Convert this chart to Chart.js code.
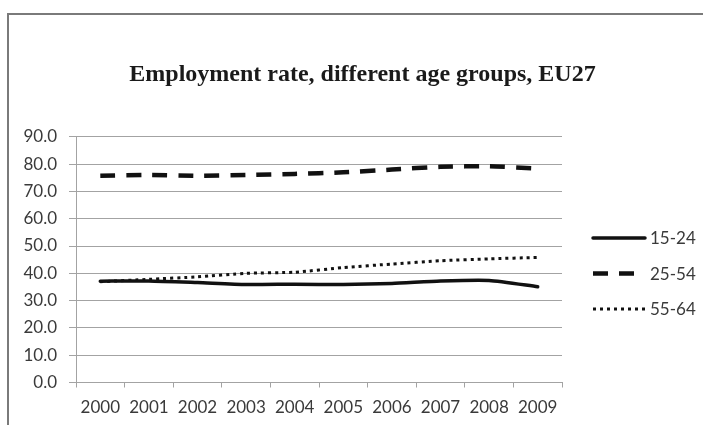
<!DOCTYPE html>
<html>
<head>
<meta charset="utf-8">
<script src="https://cdn.jsdelivr.net/npm/chart.js@4.4.0/dist/chart.umd.min.js"></script>
<style>
  html, body { margin: 0; padding: 0; background: #fff; }
  #wrap { width: 703px; height: 425px; }
</style>
</head>
<body>
<div id="wrap"><canvas id="chart"></canvas></div>
<script>
const years = ["2000", "2001", "2002", "2003", "2004", "2005", "2006", "2007", "2008", "2009"];
const seriesNames = ["15-24", "25-54", "55-64"];
const youth = [37.1, 37.2, 36.6, 35.9, 36.0, 35.9, 36.3, 37.2, 37.4, 35.1];
const prime = [75.7, 76.0, 75.7, 76.0, 76.4, 77.0, 78.0, 79.0, 79.2, 78.4];
const older = [36.9, 37.8, 38.7, 40.0, 40.4, 42.1, 43.4, 44.6, 45.3, 45.8];
const yMin = 0;
const yMax = 90;
const yStep = 10;

const labelFont = "Lato";
const textColor = "#3a3a3a";
const gridColor = "#a3a3a3";

// frame round the chart (the scan shows the left and top edges)
const framePlugin = {
  id: "frame",
  beforeDraw(chart) {
    const ctx = chart.ctx;
    ctx.save();
    ctx.fillStyle = "#fff";
    ctx.fillRect(0, 0, chart.width, chart.height);
    ctx.strokeStyle = "#7a7a7a";
    ctx.lineWidth = 2;
    ctx.beginPath();
    ctx.moveTo(8, chart.height + 2);
    ctx.lineTo(8, 14);
    ctx.lineTo(chart.width + 2, 14);
    ctx.stroke();
    ctx.restore();
  },
};

// legend on the right, drawn by hand so it sits where the original does
const sideLegend = {
  id: "sideLegend",
  afterDraw(chart) {
    const ctx = chart.ctx;
    const x0 = 593, x1 = 645, tx = 650;
    const rowTop = 238, rowGap = 35.5;
    ctx.save();
    chart.data.datasets.forEach((ds, i) => {
      const y = rowTop + i * rowGap;
      ctx.strokeStyle = ds.borderColor;
      ctx.lineWidth = ds.borderWidth;
      ctx.lineCap = ds.borderCapStyle || "butt";
      ctx.setLineDash(ds.borderDash || []);
      ctx.beginPath();
      ctx.moveTo(x0, y);
      ctx.lineTo(x1, y);
      ctx.stroke();
      ctx.setLineDash([]);
      ctx.fillStyle = textColor;
      ctx.font = "17px " + labelFont;
      ctx.textBaseline = "middle";
      ctx.fillText(ds.label, tx, y + 1);
    });
    ctx.restore();
  },
};

const chart = new Chart(document.getElementById("chart"), {
  type: "line",
  data: {
    labels: years,
    datasets: [
      {
        label: seriesNames[0],
        data: youth,
        borderColor: "#111",
        borderWidth: 3.5,
        borderCapStyle: "round",
        pointRadius: 0,
        tension: 0.2,
      },
      {
        label: seriesNames[1],
        data: prime,
        borderColor: "#111",
        borderWidth: 4.5,
        borderDash: [15, 11],
        pointRadius: 0,
        tension: 0.2,
      },
      {
        label: seriesNames[2],
        data: older,
        borderColor: "#111",
        borderWidth: 3,
        borderDash: [3, 4],
        pointRadius: 0,
        tension: 0.2,
      },
    ],
  },
  options: {
    responsive: true,
    maintainAspectRatio: false,
    animation: false,
    layout: { padding: { left: 22, right: 0, top: 0, bottom: 0 } },
    plugins: {
      legend: { display: false },
      tooltip: { enabled: false },
      title: {
        display: true,
        text: "Employment rate, different age groups, EU27",
        color: "#1a1a1a",
        font: { family: "Liberation Serif", size: 24, weight: "bold" },
        padding: { top: 60, bottom: 48 },
      },
    },
    scales: {
      x: {
        offset: true,
        grid: {
          offset: true,
          drawOnChartArea: false,
          drawTicks: true,
          tickLength: 5,
          color: gridColor,
        },
        border: { display: true, color: gridColor },
        ticks: {
          color: textColor,
          font: { family: labelFont, size: 17 },
          padding: 10,
          maxRotation: 0,
        },
        afterFit(scale) {
          scale.height = 42.5;
        },
      },
      y: {
        min: yMin,
        max: yMax,
        grid: { color: gridColor, tickLength: 7 },
        border: { display: true, color: gridColor },
        ticks: {
          stepSize: yStep,
          color: textColor,
          font: { family: labelFont, size: 17 },
          padding: 12,
          callback: (v) => v.toFixed(1),
        },
        afterFit(scale) {
          scale.width = 54;
        },
      },
      // empty axis that keeps the space on the right for the legend
      side: {
        position: "right",
        grid: { display: false },
        border: { display: false },
        ticks: { display: false },
        afterFit(scale) {
          scale.width = 141;
        },
      },
    },
  },
  plugins: [framePlugin, sideLegend],
});
</script>
</body>
</html>
